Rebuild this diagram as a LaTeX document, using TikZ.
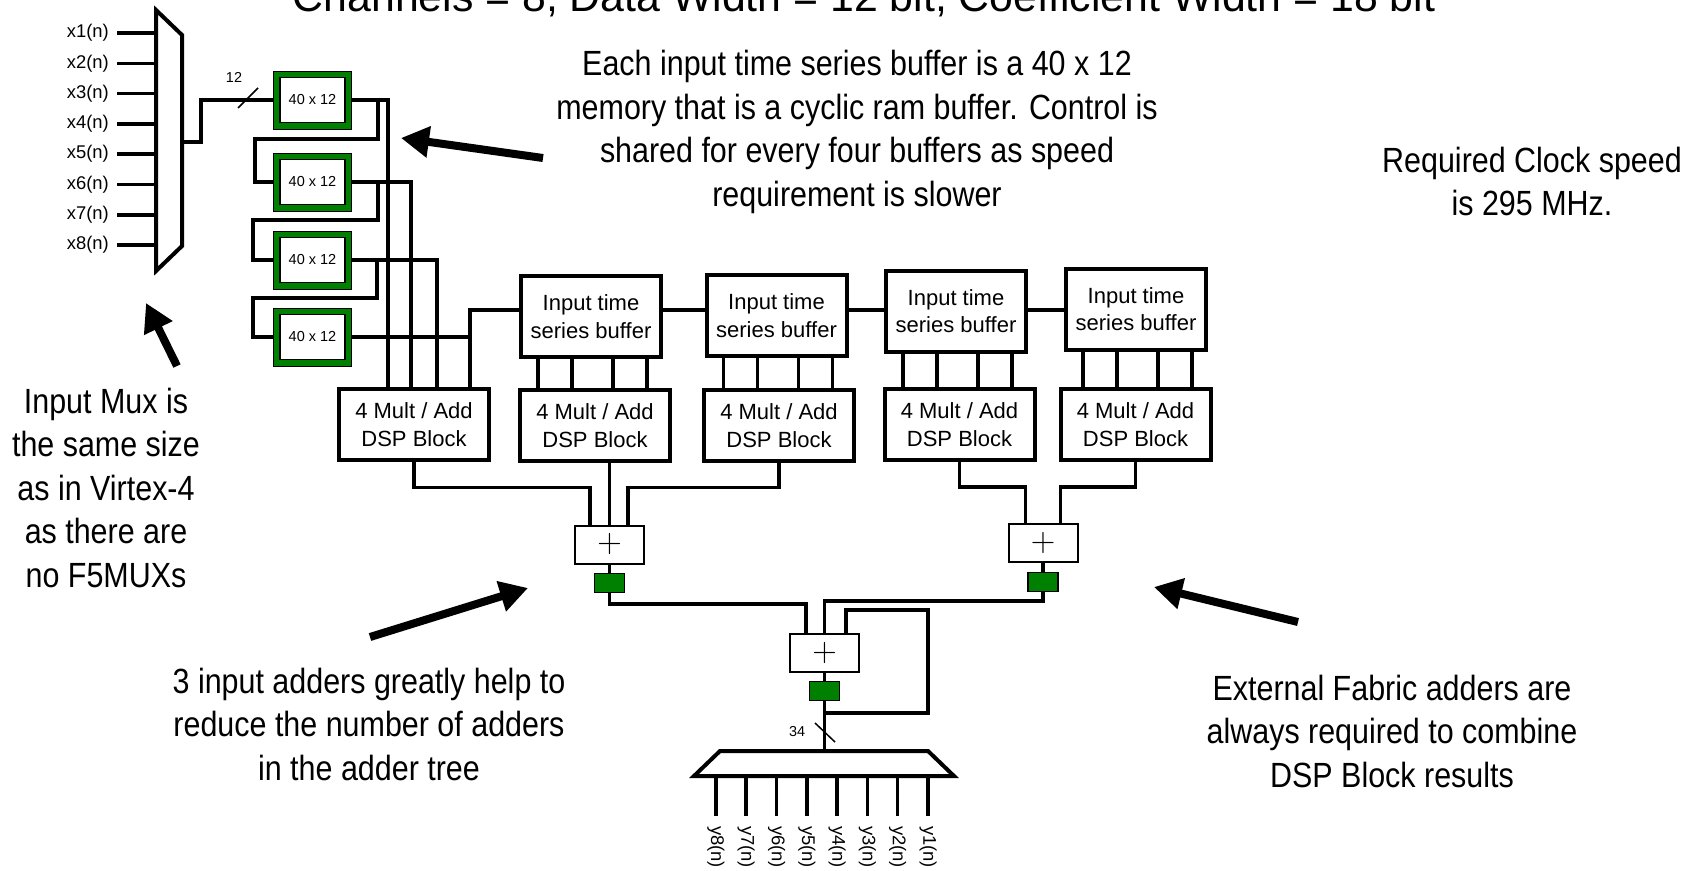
\documentclass[tikz,border=0pt]{standalone}
\usepackage{fontspec}
\setmainfont{Liberation Sans}
\newfontfamily\narrowf{Liberation Sans}[FakeStretch=0.87]
\newfontfamily\plusfont{Latin Modern Roman}
\usetikzlibrary{arrows.meta,calc}
\definecolor{regg}{HTML}{008000}
\begin{document}
\begin{tikzpicture}[x=1pt,y=-1pt,
  wire/.style={line width=3.5pt},
  boxd/.style={draw, line width=4pt, fill=white, inner sep=0pt, align=center, font=\fontsize{22}{28}\selectfont},
  dsp/.style={boxd, minimum width=150pt, minimum height=71pt},
  itsb/.style={boxd, minimum width=140pt, minimum height=81pt, font=\fontsize{22}{27.5}\selectfont},
  bufo/.style={draw=black, line width=1pt, fill=regg, minimum width=78pt, minimum height=58pt, inner sep=0pt},
  bufi/.style={draw=black, line width=1.5pt, fill=white, minimum width=65pt, minimum height=45pt, inner sep=0pt, font=\fontsize{14.5}{14.5}\selectfont},
  adder/.style={draw, line width=2pt, fill=white, minimum width=69pt, minimum height=38pt, inner sep=0pt, font=\plusfont\fontsize{34}{34}\selectfont},
  reg/.style={draw, line width=1.5pt, fill=regg, minimum width=30pt, minimum height=19pt, inner sep=0pt},
  note/.style={align=center, inner sep=0pt, font=\narrowf\fontsize{35}{43.5}\selectfont},
  smalllab/.style={inner sep=0pt, font=\fontsize{14.4}{14.4}\selectfont},
  io/.style={inner sep=0pt, font=\fontsize{18.4}{18.4}\selectfont},
  bigarrow/.style={line width=8pt, -{Triangle[length=28pt,width=30pt]}},
  mux/.style={draw, line width=4pt, fill=white, line join=miter},
]
\useasboundingbox (0,0) rectangle (1686,870);

% title (partly cut off at the top, as in the reference)
\node[anchor=base, inner sep=0pt, font=\fontsize{42.8}{42.8}\selectfont] (title) at (864,11) {Channels = 8, Data Width = 12 bit, Coefficient Width = 18 bit};

% input labels and mux
\foreach \i in {1,...,8} {
  \pgfmathsetmacro\yy{33+30.3*(\i-1)}
  \node[io, anchor=east, inner xsep=8pt] (x\i) at (117,\yy) {x\i(n)};
  \coordinate (m\i) at (156,\yy);
  \draw[wire] (x\i.east) -- (m\i);
}
\draw[mux] (156,10) -- (182,35) -- (182,246) -- (156,271) -- cycle;
\coordinate (muxout) at (182,142);

% 40 x 12 buffers
\foreach \i/\y in {1/100,2/182,3/260,4/337} {
  \node[bufo] (b\i) at (312.5,\y) {};
  \node[bufi] (bi\i) at (b\i) {40 x 12};
}
\draw[wire] (muxout) -- (201,142) |- (b1.west);
\draw[line width=1.5pt] (238,108) -- (258,88);
\node[smalllab] (l12) at (234,77) {12};

% DSP blocks
\node[dsp] (d1) at (414,424.5) {4 Mult / Add\\DSP Block};
\node[dsp] (d2) at (595,425.5) {4 Mult / Add\\DSP Block};
\node[dsp] (d3) at (779,425.5) {4 Mult / Add\\DSP Block};
\node[dsp] (d4) at (959.5,424.5) {4 Mult / Add\\DSP Block};
\node[dsp] (d5) at (1135.5,424.5) {4 Mult / Add\\DSP Block};

% input time series buffers
\node[itsb] (s1) at (591,316.5) {Input time\\series buffer};
\node[itsb] (s2) at (776.5,315.5) {Input time\\series buffer};
\node[itsb] (s3) at (956,311) {Input time\\series buffer};
\node[itsb] (s4) at (1136,309) {Input time\\series buffer};

% taps into DSP1
\path (d1.north west) ++(51,0) coordinate (t1);
\path (d1.north west) ++(74,0) coordinate (t2);
\path (d1.north west) ++(100,0) coordinate (t3);
\path (d1.north west) ++(133,0) coordinate (t4);
\draw[wire] (b1.east) -| (t1);
\draw[wire] (b2.east) -| (t2);
\draw[wire] (b3.east) -| (t3);
\draw[wire] (b4.east) -| (t4);
% cascade loops
\draw[wire] (378,100) -- (378,139) -- (255,139) |- (b2.west);
\draw[wire] (378,182) -- (378,220) -- (253,220) |- (b3.west);
\draw[wire] (377,260) -- (377,298) -- (253,298) |- (b4.west);

% chain of input time series buffers
\coordinate (ch) at (0,310);
\draw[wire] (s1.west |- ch) -| (t4);
\draw[wire] (s1.east |- ch) -- (s2.west |- ch);
\draw[wire] (s2.east |- ch) -- (s3.west |- ch);
\draw[wire] (s3.east |- ch) -- (s4.west |- ch);

\foreach \k/\d in {1/2,2/3,3/4,4/5} {
  \foreach \o in {19,53,94,128} {
    \path (s\k.south west) ++(\o,0) coordinate (p);
    \draw[wire] (p) -- (p |- d\d.north);
  }
}

% adders and registers
\node[adder] (a1) at (609.5,544.5) {+};
\node[adder] (a2) at (1043,543) {+};
\node[adder] (a3) at (824.5,653) {+};
\node[reg] (r1) at (609.5,583) {};
\node[reg] (r2) at (1043,582) {};
\node[reg] (r3) at (824.5,691) {};

\coordinate (a1l) at ($(a1.north)+(-19.5,0)$);
\coordinate (a1r) at ($(a1.north)+(18.5,0)$);
\coordinate (a2l) at ($(a2.north)+(-17.5,0)$);
\coordinate (a2r) at ($(a2.north)+(17.5,0)$);
\coordinate (a3l) at ($(a3.north)+(-18.5,0)$);
\coordinate (a3r) at ($(a3.north)+(21.5,0)$);

\draw[wire] (d1.south) |- ($(a1l)+(0,-37)$) -- (a1l);
\draw[wire] (a1.north) -- (a1.north |- d2.south);
\draw[wire] (d3.south) |- ($(a1r)+(0,-37)$) -- (a1r);
\draw[wire] (d4.south) |- ($(a2l)+(0,-36)$) -- (a2l);
\draw[wire] (d5.south) |- ($(a2r)+(0,-36)$) -- (a2r);

\draw[wire] (a1.south) -- (r1.north);
\draw[wire] (a2.south) -- (r2.north);
\draw[wire] (a3.south) -- (r3.north);

\draw[wire] (r1.south) |- ($(a3l)+(0,-29)$) -- (a3l);
\draw[wire] (r2.south) |- ($(a3.north)+(0,-32)$) -- (a3.north);
\coordinate (fb) at (928,713);
\draw[wire] (a3r) -- ++(0,-23) -| (fb) -- (fb -| r3.south);

% output demux
\coordinate (dm) at (824.5,751);
\draw[wire] (r3.south) -- (dm);
\draw[line width=1.5pt] (815,723) -- (835,742);
\node[smalllab] (l34) at (797,732) {34};
\draw[mux] (720,751) -- (928,751) -- (954,776) -- (694,776) -- cycle;
\foreach \i in {1,...,8} {
  \pgfmathsetmacro\xx{928-30.3*(\i-1)}
  \coordinate (o\i) at (\xx,776);
  \node[io, rotate=-90, anchor=west, inner xsep=10pt] (y\i) at (\xx,816) {y\i(n)};
  \draw[wire] (o\i) -- (y\i.west);
}

% notes
\node[note] (n1) at (857,132) {Each input time series buffer is a 40 x 12\\memory that is a cyclic ram buffer. Control is\\shared for every four buffers as speed\\requirement is slower};
\node[note] (n2) at (1532,181.5) {Required Clock speed\\is 295 MHz.};
\node[note] (n3) at (106,487.5) {Input Mux is\\the same size\\as in Virtex-4\\as there are\\no F5MUXs};
\node[note] (n4) at (369,724) {3 input adders greatly help to\\reduce the number of adders\\in the adder tree};
\node[note] (n5) at (1392,731) {External Fabric adders are\\always required to combine\\DSP Block results};

% annotation arrows
\coordinate (A1s) at (543,158); \coordinate (A1e) at (401,138);
\coordinate (A2s) at (177,366); \coordinate (A2e) at (146,303);
\coordinate (A3s) at (370,637); \coordinate (A3e) at (528,588);
\coordinate (A4s) at (1298,622); \coordinate (A4e) at (1154,587);
\draw[bigarrow] (A1s) -- (A1e);
\draw[bigarrow] (A2s) -- (A2e);
\draw[bigarrow] (A3s) -- (A3e);
\draw[bigarrow] (A4s) -- (A4e);
\end{tikzpicture}
\end{document}
